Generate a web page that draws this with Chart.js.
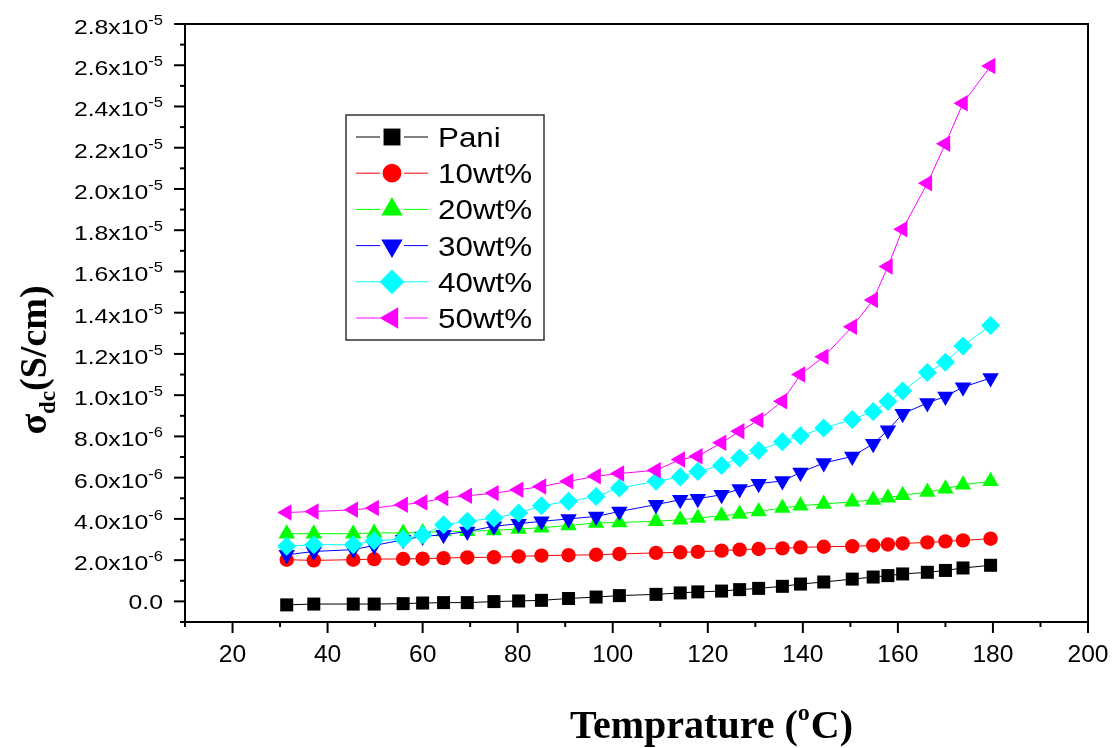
<!DOCTYPE html>
<html>
<head>
<meta charset="utf-8">
<script src="https://cdn.jsdelivr.net/npm/chart.js@4.4.1/dist/chart.umd.min.js"></script>
<style>
  html, body { margin: 0; padding: 0; background: #fff; }
  #wrap { width: 1115px; height: 748px; }
</style>
</head>
<body>
<div id="wrap"><canvas id="sigmaChart" width="1115" height="748"></canvas></div>
<script>
// temperature (°C) of each measurement
const temps = [31.4, 37.1, 45.4, 49.8, 55.9, 60.0, 64.4, 69.4, 75.0, 80.2, 85.0, 90.7, 96.5, 101.4, 109.1, 114.2,
               117.9, 122.9, 126.7, 130.7, 135.7, 139.5, 144.4, 150.4, 154.8, 157.9, 161.0, 166.2, 170.0, 173.7, 179.5];

// sigma_dc values, in units of 1e-6 S/cm
const pani  = [-0.17, -0.13, -0.13, -0.13, -0.11, -0.08, -0.06, -0.06, -0.01, 0.02, 0.05, 0.14, 0.21, 0.28, 0.34, 0.41,
               0.46, 0.50, 0.57, 0.63, 0.73, 0.84, 0.94, 1.08, 1.18, 1.25, 1.33, 1.41, 1.50, 1.62, 1.75];
const wt10  = [2.02, 1.99, 2.02, 2.05, 2.06, 2.07, 2.10, 2.13, 2.14, 2.18, 2.22, 2.24, 2.26, 2.30, 2.35, 2.38,
               2.40, 2.46, 2.51, 2.54, 2.57, 2.62, 2.65, 2.67, 2.71, 2.76, 2.81, 2.86, 2.91, 2.96, 3.04];
const wt20  = [3.28, 3.28, 3.28, 3.32, 3.32, 3.34, 3.39, 3.40, 3.44, 3.51, 3.57, 3.68, 3.80, 3.83, 3.88, 3.96,
               4.04, 4.15, 4.24, 4.36, 4.53, 4.64, 4.72, 4.83, 4.92, 5.03, 5.15, 5.30, 5.46, 5.66, 5.82];
const wt30  = [2.26, 2.42, 2.51, 2.71, 2.99, 3.15, 3.23, 3.39, 3.64, 3.77, 3.88, 4.00, 4.12, 4.36, 4.69, 4.93,
               4.98, 5.17, 5.45, 5.71, 5.84, 6.25, 6.71, 7.03, 7.64, 8.30, 9.10, 9.62, 9.94, 10.39, 10.83];
const wt40  = [2.67, 2.75, 2.75, 2.94, 3.02, 3.22, 3.72, 3.88, 4.04, 4.28, 4.64, 4.85, 5.09, 5.50, 5.82, 6.03,
               6.30, 6.59, 6.95, 7.32, 7.74, 8.03, 8.41, 8.82, 9.21, 9.69, 10.20, 11.10, 11.60, 12.39, 13.38];
const wt50  = [4.31, 4.36, 4.44, 4.53, 4.69, 4.80, 5.01, 5.12, 5.25, 5.41, 5.57, 5.82, 6.07, 6.20, 6.36, 6.88,
               7.04, 7.69, 8.25, 8.79, 9.71, 11.00, 11.86, 13.32, 14.62, 16.24, 18.05, 20.28, 22.19, 24.16, 25.96];

const seriesLabels = ['Pani', '10wt%', '20wt%', '30wt%', '40wt%', '50wt%'];
const seriesValues = [pani, wt10, wt20, wt30, wt40, wt50];

// axis ranges (x in °C, y in 1e-6 S/cm)
const xRange = [10, 200];
const yRange = [-1, 28];

// Origin-like marker styles
const styles = [
    { color: '#000000', pointStyle: 'rect',     rotation: 0,   radius: 9.2 },
    { color: '#ff0000', pointStyle: 'circle',   rotation: 0,   radius: 7.2 },
    { color: '#00ff00', pointStyle: 'triangle', rotation: 0,   radius: 9.5 },
    { color: '#0000ff', pointStyle: 'triangle', rotation: 180, radius: 9.5 },
    { color: '#00ffff', pointStyle: 'rectRot',  rotation: 0,   radius: 9.5 },
    { color: '#ff00ff', pointStyle: 'triangle', rotation: 270, radius: 9.5 }
];

const SANS = '"Liberation Sans", Arial, sans-serif';
const SERIF = '"Liberation Serif", "Times New Roman", serif';

function seg(ctx, x1, y1, x2, y2) {
    ctx.beginPath();
    ctx.moveTo(x1, y1);
    ctx.lineTo(x2, y2);
    ctx.stroke();
}

// text squeezed/stretched horizontally, anchored by align at (x, y)
function wideText(ctx, text, x, y, sx, align) {
    ctx.save();
    ctx.translate(x, y);
    ctx.scale(sx, 1);
    ctx.textAlign = align;
    ctx.fillText(text, 0, 0);
    ctx.restore();
}

const originFrame = {
    id: 'originFrame',
    afterDatasetsDraw(chart) {
        const { ctx, chartArea: a, scales: { x, y } } = chart;
        ctx.save();
        ctx.fillStyle = '#000';
        ctx.strokeStyle = '#000';
        ctx.textBaseline = 'alphabetic';

        // frame
        ctx.lineWidth = 2;
        ctx.strokeRect(a.left, a.top, a.right - a.left, a.bottom - a.top);

        // x ticks + labels
        ctx.lineWidth = 2;
        x.ticks.forEach(t => {
            const px = x.getPixelForValue(t.value);
            const major = Math.round(t.value) % 20 === 0;
            seg(ctx, px, a.bottom, px, a.bottom + (major ? 11 : 5));
            if (major) {
                ctx.font = '23px ' + SANS;
                wideText(ctx, String(Math.round(t.value)), px, a.bottom + 40, 1.07, 'center');
            }
        });

        // y ticks + labels (a x 10^n)
        y.ticks.forEach(t => {
            const n = Math.round(t.value);
            const py = y.getPixelForValue(t.value);
            const major = n % 2 === 0;
            seg(ctx, a.left - (major ? 11 : 5), py, a.left, py);
            if (!major) return;
            const right = a.left - 22;
            if (n === 0) {
                ctx.font = '21px ' + SANS;
                wideText(ctx, '0.0', right, py + 7.5, 1.18, 'right');
                return;
            }
            const exp = n >= 10 ? '-5' : '-6';
            const mant = (n >= 10 ? n / 10 : n).toFixed(1) + 'x10';
            ctx.font = '14px ' + SANS;
            const ew = ctx.measureText(exp).width * 1.18;
            wideText(ctx, exp, right, py + 1, 1.18, 'right');
            ctx.font = '21px ' + SANS;
            wideText(ctx, mant, right - ew, py + 10, 1.18, 'right');
        });

        // x axis title
        ctx.font = 'bold 40px ' + SERIF;
        const t1 = 'Temprature (', t3 = 'C)';
        const w1 = ctx.measureText(t1).width, w3 = ctx.measureText(t3).width;
        ctx.font = 'bold 24px ' + SERIF;
        const w2 = ctx.measureText('o').width + 1;
        let tx = (a.left + a.right) / 2 - (w1 + w2 + w3) / 2 + 75;
        const ty = 738;
        ctx.textAlign = 'left';
        ctx.font = 'bold 40px ' + SERIF;
        ctx.fillText(t1, tx, ty);
        ctx.font = 'bold 24px ' + SERIF;
        ctx.fillText('o', tx + w1, ty - 18);
        ctx.font = 'bold 40px ' + SERIF;
        ctx.fillText(t3, tx + w1 + w2, ty);

        // y axis title (rotated)
        ctx.save();
        ctx.translate(46, 360);
        ctx.rotate(-Math.PI / 2);
        ctx.font = 'bold 38px ' + SERIF;
        const s1 = '\u03c3', s3 = '(S/cm)';
        const v1 = ctx.measureText(s1).width, v3 = ctx.measureText(s3).width;
        ctx.font = 'bold 23px ' + SERIF;
        const v2 = ctx.measureText('dc').width;
        let sx = -(v1 + v2 + v3) / 2;
        ctx.textAlign = 'left';
        ctx.font = 'bold 38px ' + SERIF;
        ctx.fillText(s1, sx, 0);
        ctx.font = 'bold 23px ' + SERIF;
        ctx.fillText('dc', sx + v1, 9);
        ctx.font = 'bold 38px ' + SERIF;
        ctx.fillText(s3, sx + v1 + v2, 0);
        ctx.restore();

        // legend box
        const lx = a.left + 161, ly = a.top + 91, lw = 198, lh = 225;
        ctx.lineWidth = 1.5;
        ctx.strokeStyle = '#333';
        ctx.strokeRect(lx, ly, lw, lh);
        chart.data.datasets.forEach((ds, i) => {
            const rowY = ly + 22 + i * 36.2;
            const mx = lx + 46;
            ctx.strokeStyle = ds.borderColor;
            ctx.fillStyle = ds.backgroundColor;
            ctx.lineWidth = 1;
            seg(ctx, lx + 10, rowY, mx - 12, rowY);
            seg(ctx, mx + 12, rowY, lx + 82, rowY);
            Chart.helpers.drawPoint(ctx, {
                pointStyle: ds.pointStyle,
                rotation: ds.pointRotation,
                radius: ds.pointRadius * 1.3,
                borderWidth: 0
            }, mx, rowY);
            ctx.fillStyle = '#000';
            ctx.font = '28px ' + SANS;
            wideText(ctx, ds.label, lx + 92, rowY + 10, 1.12, 'left');
        });

        ctx.restore();
    }
};

const datasets = seriesValues.map((vals, i) => ({
    label: seriesLabels[i],
    data: temps.map((t, j) => ({ x: t, y: vals[j] })),
    borderColor: styles[i].color,
    backgroundColor: styles[i].color,
    borderWidth: 1,
    pointStyle: styles[i].pointStyle,
    pointRotation: styles[i].rotation,
    pointRadius: styles[i].radius,
    pointHoverRadius: styles[i].radius,
    pointBorderWidth: 0,
    tension: 0,
    order: seriesValues.length - i
}));

new Chart(document.getElementById('sigmaChart'), {
    type: 'line',
    data: { datasets: datasets },
    options: {
        responsive: false,
        animation: false,
        devicePixelRatio: 1,
        layout: { padding: { top: 24, right: 27, left: 0, bottom: 0 } },
        plugins: { legend: { display: false }, tooltip: { enabled: false } },
        scales: {
            x: {
                type: 'linear', min: xRange[0], max: xRange[1],
                ticks: { stepSize: 10, display: false },
                grid: { display: false }, border: { display: false },
                afterFit: s => { s.height = 126; }
            },
            y: {
                type: 'linear', min: yRange[0], max: yRange[1],
                ticks: { stepSize: 1, display: false },
                grid: { display: false }, border: { display: false },
                afterFit: s => { s.width = 185; }
            }
        }
    },
    plugins: [originFrame]
});
</script>
</body>
</html>
